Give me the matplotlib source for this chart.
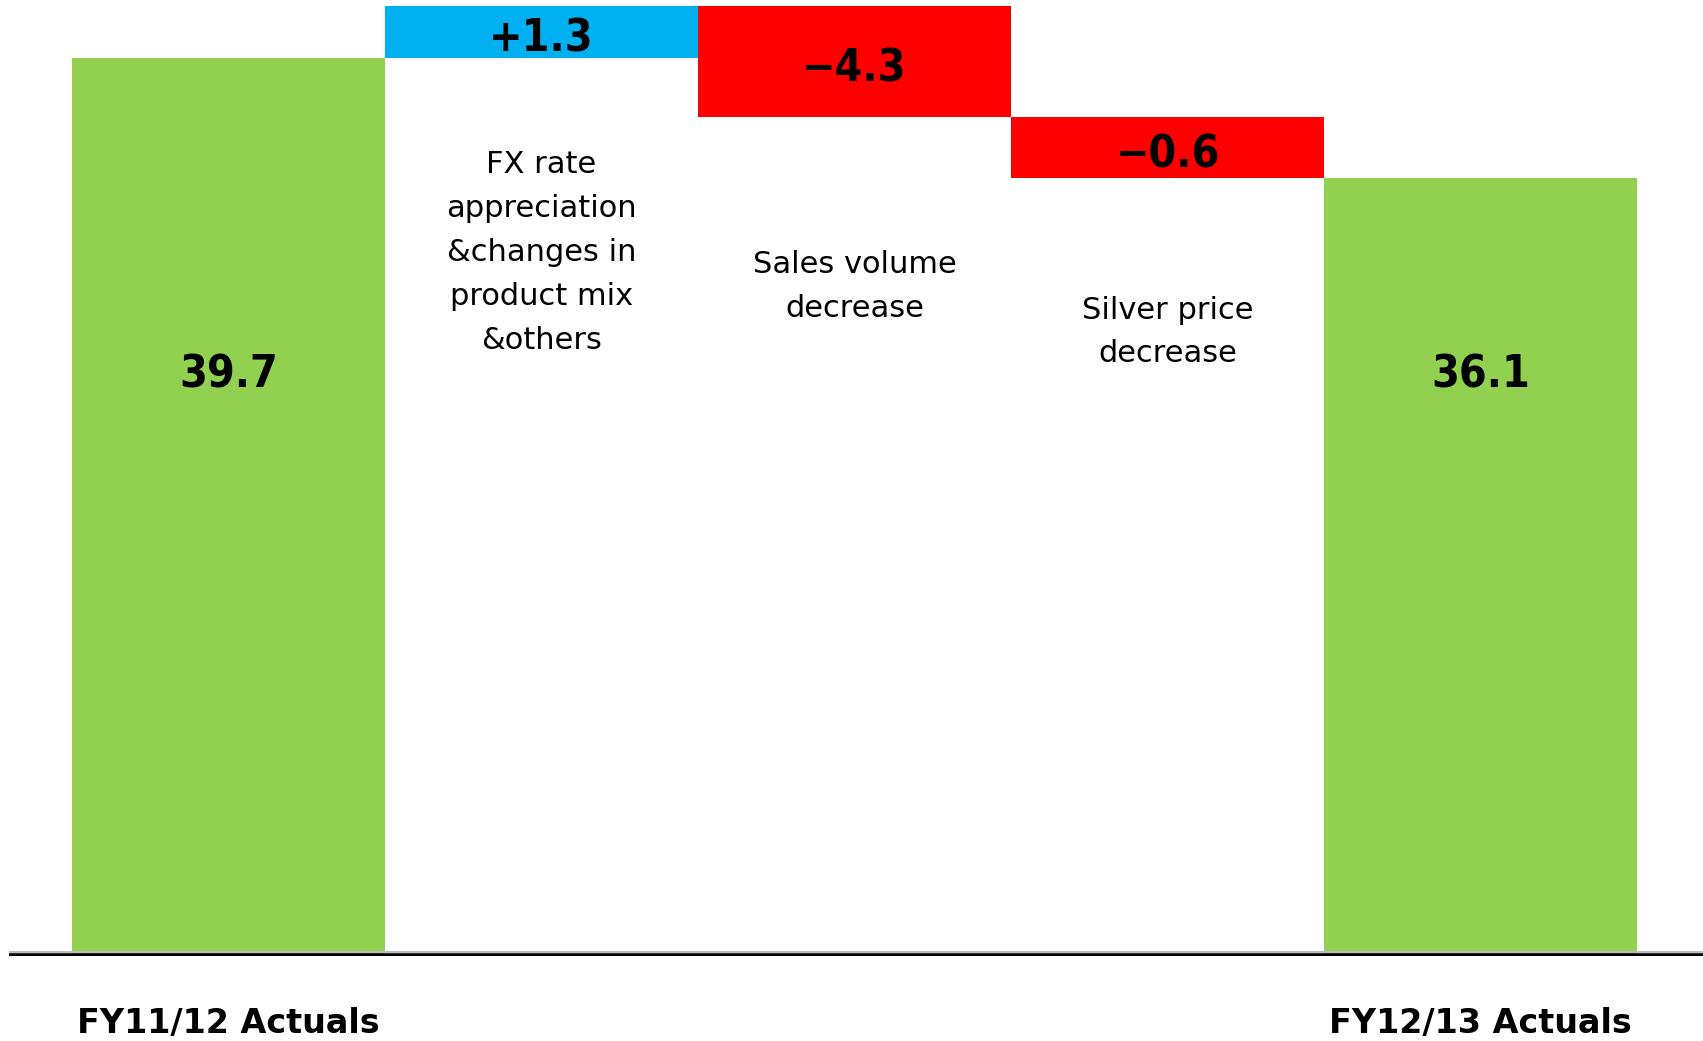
import matplotlib.pyplot as plt

# data
categories = ['FY11/12 Actuals',
              'FX rate\nappreciation\n&changes in\nproduct mix\n&others',
              'Sales volume\ndecrease',
              'Silver price\ndecrease',
              'FY12/13 Actuals']
values = [39.7, 1.3, -4.3, -0.6, 36.1]
value_labels = ['39.7', '+1.3', '\u22124.3', '\u22120.6', '36.1']
# running level after each bar, as drawn in the original (not to scale)
drawn_levels = [39.7, 42.0, 37.1, 34.4, 34.4]
colors = ['#92D050', '#00B0F0', '#FF0000', '#FF0000', '#92D050']

val_font = ['DejaVu Sans Condensed', 'DejaVu Sans']

fig = plt.figure(figsize=(17.03, 10.41), dpi=100)
ax = fig.add_axes([0.0053, 0.0817, 0.9947, 0.9121])

n = len(values)
for i in range(n):
    if i == 0 or i == n - 1:
        bottom, top = 0, drawn_levels[i]
    else:
        a, b = drawn_levels[i - 1], drawn_levels[i]
        bottom, top = min(a, b), max(a, b)
    ax.bar(i, top - bottom, bottom=bottom, width=1.0, color=colors[i],
           edgecolor='none')

    if i == 0 or i == n - 1:
        ax.text(i, 25.7, value_labels[i], ha='center', va='center',
                fontsize=32, fontweight='bold', family=val_font,
                fontstretch='condensed')
        ax.text(i, -3.0, categories[i], ha='center', va='center',
                fontsize=24, fontweight='bold', clip_on=False)
    else:
        ax.text(i, (bottom + top) / 2 - 0.3, value_labels[i], ha='center',
                va='center', fontsize=32, fontweight='bold', family=val_font,
                fontstretch='condensed')

# labels under the change bars
cat_y = [None, 31.1, 29.6, 27.6, None]
for i in range(1, n - 1):
    ax.text(i, cat_y[i], categories[i], ha='center', va='center',
            fontsize=22, linespacing=1.65)

ax.axhline(0.16, color='#bbbbbb', lw=1.5)
ax.axhline(0, color='black', lw=4)

ax.set_xlim(-0.7, 4.71)
ax.set_ylim(0, 42.0)
ax.axis('off')

plt.savefig('out.png', dpi=100)
